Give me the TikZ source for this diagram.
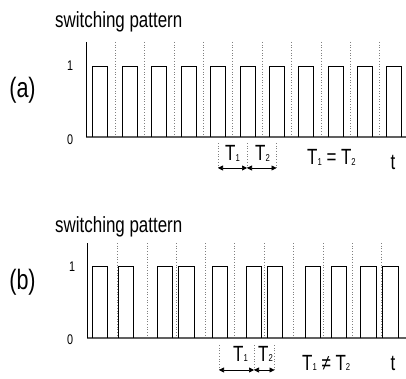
\documentclass[tikz,border=0pt]{standalone}
\usepackage{fontspec}
\setmainfont{Liberation Sans}[FakeStretch=0.77]
\usetikzlibrary{arrows.meta}
\newcommand\lowsub[1]{\raisebox{-0.5pt}{\fontsize{10}{10}\selectfont #1}}
\begin{document}
\begin{tikzpicture}[x=1pt,y=-1pt,
  pulse/.style={black,line width=0.9pt},
  baseln/.style={gray!75!black,line width=1.2pt},
  axisln/.style={black,line width=1pt},
  gridln/.style={gray,dotted,line width=0.7pt},
  dimln/.style={black,line width=0.7pt,{Triangle[length=5pt,width=5pt]}-{Triangle[length=5pt,width=5pt]}},
  title/.style={font=\fontsize{22}{24}\selectfont,anchor=base west,inner sep=0},
  panel/.style={font=\fontsize{28}{30}\selectfont,inner sep=0},
  level/.style={font=\fontsize{14}{14}\selectfont,inner sep=0},
  tlab/.style={font=\fontsize{22}{24}\selectfont,anchor=base west,inner sep=0}]
\useasboundingbox (0,0) rectangle (406,379);

% ---------------- panel (a)
\node[title] (ta) at (55,27.5) {switching pattern};
\node[panel] (pa) at (22.5,90) {(a)};
\node[level] (l1a) at (70,66) {1};
\node[level] (l0a) at (70,140) {0};
\foreach \x in {115,144.5,174,203,232.5,262,291.5,321,350,379}
  \draw[gridln] (\x,42) -- (\x,137);
\draw[baseln] (86,137) -- (406,137);
\draw[axisln] (86,42) -- (86,137);
\foreach \a/\b in {92/107,122/137,151.5/166.5,181/196,210.5/225.5,240/255,269/284,298.5/313.5,328/343,357/372,386.5/401.5}
  \draw[pulse] (\a,137) -- (\a,66.7) -- (\b,66.7) -- (\b,137);
\coordinate (m1a) at (218,168);
\coordinate (m2a) at (247,168);
\coordinate (m3a) at (276.5,168);
\foreach \m in {m1a,m2a,m3a} \draw[gridln] (\m) -- ++(0,-25);
\draw[dimln] (m1a) -- (m2a);
\draw[dimln] (m2a) -- (m3a);
\node[tlab] (t1a) at (225,161) {T\lowsub{1}};
\node[tlab] (t2a) at (255,161) {T\lowsub{2}};
\node[tlab] (eqa) at (307,165) {T\lowsub{1} = T\lowsub{2}};
\node[tlab,anchor=base] (ta2) at (393,170) {t};

% ---------------- panel (b)
\node[title] (tb) at (55,232) {switching pattern};
\node[panel] (pb) at (22.5,282.5) {(b)};
\node[level] (l1b) at (72,267) {1};
\node[level] (l0b) at (70,340) {0};
\foreach \x in {117,147,176,205,234,264,293,323,352,381}
  \draw[gridln] (\x,243) -- (\x,338);
\draw[baseln] (87,338) -- (406,338);
\draw[axisln] (87,243) -- (87,338);
\foreach \a/\b in {92/107,118.5/133.5,157/172,178.5/194,212.5/227.5,246/261.5,267/282.5,305/320.5,331/346.5,360.5/376,382.5/398}
  \draw[pulse] (\a,338) -- (\a,266) -- (\b,266) -- (\b,338);
\coordinate (m1b) at (219,370);
\coordinate (m2b) at (254,370);
\coordinate (m3b) at (274.5,370);
\foreach \m in {m1b,m2b,m3b} \draw[gridln] (\m) -- ++(0,-25);
\draw[dimln] (m1b) -- (m2b);
\draw[dimln] (m2b) -- (m3b);
\node[tlab] (t1b) at (233,361) {T\lowsub{1}};
\node[tlab] (t2b) at (258,361) {T\lowsub{2}};
\node[tlab] (neb) at (302,370) {T\lowsub{1} ≠ T\lowsub{2}};
\node[tlab,anchor=base] (tb2) at (393,370) {t};
\end{tikzpicture}
\end{document}
